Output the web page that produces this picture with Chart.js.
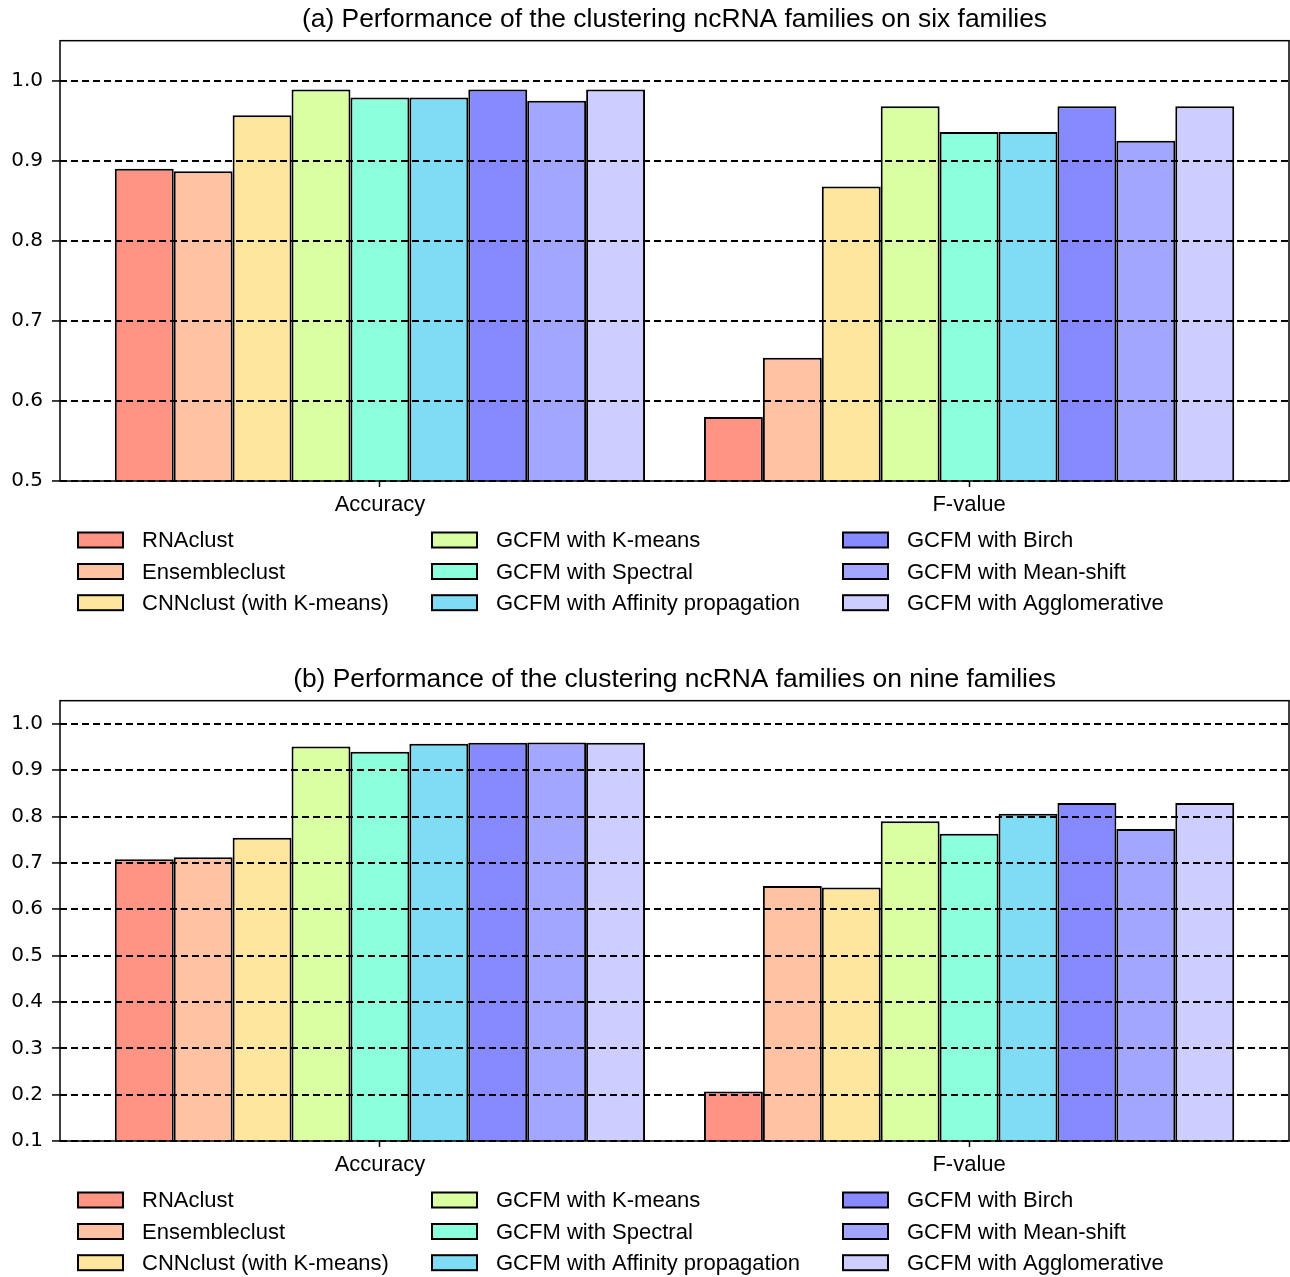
<!DOCTYPE html>
<html>
<head>
<meta charset="utf-8">
<script src="https://cdn.jsdelivr.net/npm/chart.js@4.4.1/dist/chart.umd.min.js"></script>
<style>
html, body { margin: 0; padding: 0; background: #fff; overflow: hidden; }
.box { position: relative; width: 1290px; height: 660px; }
</style>
</head>
<body>
<div class="box"><canvas id="chartSix"></canvas></div>
<div class="box"><canvas id="chartNine"></canvas></div>
<script>
const categories = ['Accuracy', 'F-value'];
const methods = [
    'RNAclust', 'Ensembleclust', 'CNNclust (with K-means)',
    'GCFM with K-means', 'GCFM with Spectral', 'GCFM with Affinity propagation',
    'GCFM with Birch', 'GCFM with Mean-shift', 'GCFM with Agglomerative'
];
const colors = ['#ff9485', '#ffc2a3', '#ffe69e', '#daffa3', '#8cffdc', '#80dbf5', '#8689ff', '#a3a6ff', '#cdcdff'];

const accuracySix = [0.890, 0.887, 0.957, 0.989, 0.979, 0.979, 0.989, 0.975, 0.989];
const fValueSix = [0.580, 0.654, 0.868, 0.968, 0.936, 0.936, 0.968, 0.925, 0.968];
const accuracyNine = [0.708, 0.712, 0.754, 0.951, 0.940, 0.957, 0.959, 0.960, 0.959];
const fValueNine = [0.207, 0.650, 0.647, 0.790, 0.763, 0.806, 0.829, 0.773, 0.829];

const ticksSix = [0.5, 0.6, 0.7, 0.8, 0.9, 1.0];
const ticksNine = [0.1, 0.2, 0.3, 0.4, 0.5, 0.6, 0.7, 0.8, 0.9, 1.0];

// box around the plot + legend in 3 columns under it
const frameLegend = {
    id: 'frameLegend',
    afterDraw(chart) {
        const ctx = chart.ctx;
        const a = chart.chartArea;
        ctx.save();
        ctx.strokeStyle = '#000';
        ctx.lineWidth = 1.5;
        ctx.strokeRect(a.left, a.top, a.right - a.left, a.bottom - a.top);
        const colX = [78, 432, 843];
        const rowY = [59, 90.5, 121.7];
        ctx.font = '22px "Liberation Sans", Arial, sans-serif';
        ctx.textBaseline = 'middle';
        chart.data.datasets.forEach((ds, i) => {
            const x = colX[Math.floor(i / 3)];
            const y = a.bottom + rowY[i % 3];
            ctx.fillStyle = ds.backgroundColor;
            ctx.fillRect(x, y - 7.5, 45, 15);
            ctx.lineWidth = 2;
            ctx.strokeRect(x, y - 7.5, 45, 15);
            ctx.fillStyle = '#000';
            ctx.fillText(ds.label, x + 64, y + 1);
        });
        ctx.restore();
    }
};

function makeChart(id, title, accValues, fValues, yTicks) {
    const datasets = methods.map((m, i) => ({
        label: m,
        data: [{ x: 0, y: accValues[i] }, { x: 1, y: fValues[i] }],
        backgroundColor: colors[i],
        borderColor: '#000',
        borderWidth: 2,
        borderSkipped: false
    }));
    return new Chart(document.getElementById(id), {
        type: 'bar',
        data: { datasets: datasets },
        plugins: [frameLegend],
        options: {
            responsive: true,
            maintainAspectRatio: false,
            animation: false,
            categoryPercentage: 0.9,
            barPercentage: 1,
            layout: { padding: { top: 0, right: 1, bottom: 142, left: 0 } },
            plugins: {
                legend: { display: false },
                tooltip: { enabled: false },
                title: {
                    display: true,
                    fullSize: false,
                    text: title,
                    color: '#000',
                    font: { family: '"Liberation Sans", Arial, sans-serif', size: 26.4, weight: 'normal' },
                    padding: { top: 4, bottom: 5 }
                }
            },
            scales: {
                x: {
                    type: 'linear',
                    offset: false,
                    min: -0.543,
                    max: 1.543,
                    afterBuildTicks: s => { s.ticks = categories.map((c, i) => ({ value: i })); },
                    afterFit: s => { s.height = 37; },
                    ticks: {
                        callback: v => categories[v],
                        color: '#000',
                        font: { family: '"Liberation Sans", Arial, sans-serif', size: 22 },
                        padding: 5,
                        maxRotation: 0,
                        autoSkip: false
                    },
                    grid: { offset: false, drawOnChartArea: false, drawTicks: true, tickLength: 6, tickColor: '#000', tickWidth: 1.5 },
                    border: { display: false }
                },
                y: {
                    min: yTicks[0],
                    max: 1.05,
                    afterBuildTicks: s => { s.ticks = yTicks.map(v => ({ value: v })); },
                    afterFit: s => { s.width = 60; },
                    ticks: {
                        callback: v => v.toFixed(1),
                        color: '#000',
                        font: { family: '"DejaVu Sans", sans-serif', size: 20 },
                        padding: 9
                    },
                    grid: {
                        color: '#000',
                        lineWidth: 1.9,
                        z: 1,
                        tickLength: 8,
                        tickColor: '#000',
                        tickWidth: 1.5,
                        tickBorderDash: []
                    },
                    border: { display: false, dash: [7, 4] }
                }
            }
        }
    });
}

makeChart('chartSix', '(a) Performance of the clustering ncRNA families on six families', accuracySix, fValueSix, ticksSix);
makeChart('chartNine', '(b) Performance of the clustering ncRNA families on nine families', accuracyNine, fValueNine, ticksNine);
</script>
</body>
</html>
